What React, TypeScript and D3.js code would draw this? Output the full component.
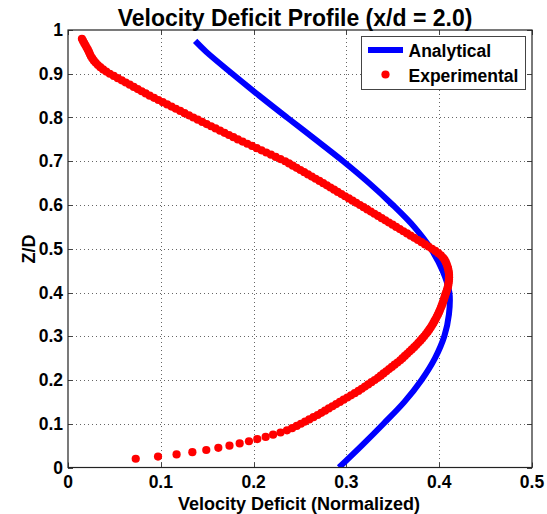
import React from "react";
import * as d3 from "d3";

const TITLE = "Velocity Deficit Profile (x/d = 2.0)";
const X_LABEL = "Velocity Deficit (Normalized)";
const Y_LABEL = "Z/D";
const SERIES_NAMES = ["Analytical", "Experimental"];

const X_TICKS = [0, 0.1, 0.2, 0.3, 0.4, 0.5];
const X_TICK_LABELS = ["0", "0.1", "0.2", "0.3", "0.4", "0.5"];
const Y_TICKS = [0, 0.1, 0.2, 0.3, 0.4, 0.5, 0.6, 0.7, 0.8, 0.9, 1];
const Y_TICK_LABELS = ["0", "0.1", "0.2", "0.3", "0.4", "0.5", "0.6", "0.7", "0.8", "0.9", "1"];

// Analytical profile: [deficit, z/D]
const ANALYTICAL: [number, number][] = [
  [0.292, 0.0], [0.3165, 0.05], [0.34, 0.1], [0.3625, 0.15], [0.381, 0.2],
  [0.3955, 0.25], [0.4055, 0.3], [0.4105, 0.35], [0.411, 0.4], [0.4036, 0.45],
  [0.391, 0.5], [0.373, 0.55], [0.35, 0.6], [0.3245, 0.65], [0.2965, 0.7],
  [0.2665, 0.75], [0.236, 0.8], [0.206, 0.85], [0.177, 0.9], [0.149, 0.95],
  [0.137, 0.975],
];

// Experimental samples: [deficit, z/D]
const EXPERIMENTAL: [number, number][] = [
  [0.073, 0.02], [0.097, 0.025], [0.117, 0.03], [0.134, 0.035], [0.149, 0.04],
  [0.162, 0.045], [0.174, 0.05], [0.185, 0.055], [0.195, 0.06], [0.204, 0.065],
  [0.213, 0.07], [0.221, 0.075], [0.229, 0.08], [0.236, 0.085], [0.2415, 0.09],
  [0.2465, 0.095], [0.251, 0.1], [0.2555, 0.105], [0.26, 0.11], [0.2645, 0.115],
  [0.269, 0.12], [0.273, 0.125], [0.277, 0.13], [0.281, 0.135], [0.285, 0.14],
  [0.289, 0.145], [0.293, 0.15], [0.297, 0.155], [0.301, 0.16], [0.305, 0.165],
  [0.309, 0.17], [0.313, 0.175], [0.3165, 0.18], [0.32, 0.185], [0.3235, 0.19],
  [0.327, 0.195], [0.3305, 0.2], [0.334, 0.205], [0.337, 0.21], [0.34, 0.215],
  [0.343, 0.22], [0.346, 0.225], [0.349, 0.23], [0.352, 0.235], [0.355, 0.24],
  [0.358, 0.245], [0.3605, 0.25], [0.363, 0.255], [0.3655, 0.26], [0.368, 0.265],
  [0.3705, 0.27], [0.373, 0.275], [0.3753, 0.28], [0.3775, 0.285], [0.3797, 0.29],
  [0.3818, 0.295], [0.3838, 0.3], [0.3857, 0.305], [0.3875, 0.31], [0.3892, 0.315],
  [0.3908, 0.32], [0.3923, 0.325], [0.3937, 0.33], [0.395, 0.335], [0.3963, 0.34],
  [0.3975, 0.345], [0.3987, 0.35], [0.3998, 0.355], [0.4008, 0.36], [0.4018, 0.365],
  [0.4027, 0.37], [0.4036, 0.375], [0.4044, 0.38], [0.4052, 0.385], [0.4059, 0.39],
  [0.4066, 0.395], [0.4075, 0.4], [0.4083, 0.405], [0.409, 0.41], [0.4096, 0.415],
  [0.41, 0.42], [0.4103, 0.425], [0.4105, 0.43], [0.4106, 0.435], [0.4106, 0.44],
  [0.4104, 0.445], [0.41, 0.45], [0.4095, 0.455], [0.4088, 0.46], [0.408, 0.465],
  [0.407, 0.47], [0.4057, 0.475], [0.404, 0.48], [0.4018, 0.485], [0.399, 0.49],
  [0.3958, 0.495], [0.3922, 0.5], [0.3885, 0.505], [0.3847, 0.51], [0.3809, 0.515],
  [0.377, 0.52], [0.3731, 0.525], [0.3692, 0.53], [0.3653, 0.535], [0.3614, 0.54],
  [0.3575, 0.545], [0.3536, 0.55], [0.3497, 0.555], [0.3458, 0.56], [0.3419, 0.565],
  [0.338, 0.57], [0.3341, 0.575], [0.3302, 0.58], [0.3263, 0.585], [0.3224, 0.59],
  [0.3185, 0.595], [0.3146, 0.6], [0.3106, 0.605], [0.3066, 0.61], [0.3026, 0.615],
  [0.2986, 0.62], [0.2946, 0.625], [0.2906, 0.63], [0.2867, 0.635], [0.2828, 0.64],
  [0.2789, 0.645], [0.275, 0.65], [0.2709, 0.655], [0.2668, 0.66], [0.2627, 0.665],
  [0.2586, 0.67], [0.2545, 0.675], [0.2504, 0.68], [0.2463, 0.685], [0.2422, 0.69],
  [0.2381, 0.695], [0.234, 0.7], [0.2289, 0.705], [0.2238, 0.71], [0.2187, 0.715],
  [0.2136, 0.72], [0.2085, 0.725], [0.2034, 0.73], [0.1983, 0.735], [0.1932, 0.74],
  [0.1881, 0.745], [0.183, 0.75], [0.1782, 0.755], [0.1734, 0.76], [0.1686, 0.765],
  [0.1638, 0.77], [0.159, 0.775], [0.1542, 0.78], [0.1494, 0.785], [0.1446, 0.79],
  [0.1398, 0.795], [0.135, 0.8], [0.1303, 0.805], [0.1256, 0.81], [0.1209, 0.815],
  [0.1162, 0.82], [0.1115, 0.825], [0.1068, 0.83], [0.1021, 0.835], [0.0974, 0.84],
  [0.0927, 0.845], [0.088, 0.85], [0.0837, 0.855], [0.0794, 0.86], [0.0751, 0.865],
  [0.0708, 0.87], [0.0665, 0.875], [0.0622, 0.88], [0.0579, 0.885], [0.0536, 0.89],
  [0.0493, 0.895], [0.045, 0.9], [0.0412, 0.905], [0.0378, 0.91], [0.0348, 0.915],
  [0.0322, 0.92], [0.0299, 0.925], [0.0279, 0.93], [0.0262, 0.935], [0.0247, 0.94],
  [0.0236, 0.945], [0.0226, 0.95], [0.0214, 0.955], [0.0201, 0.96], [0.0188, 0.965],
  [0.0175, 0.97], [0.0162, 0.975], [0.015, 0.98],
];

const FONT = "'Liberation Sans', Arial, Helvetica, sans-serif";

export default function App() {
  const W = 547;
  const H = 514;
  const left = 68, right = 532, top = 30, bottom = 467.5;
  const x = d3.scaleLinear().domain([0, 0.5]).range([left, right]);
  const y = d3.scaleLinear().domain([0, 1]).range([bottom, top]);

  const line = d3
    .line<[number, number]>()
    .x((d) => x(d[0]))
    .y((d) => y(d[1]))
    .curve(d3.curveCatmullRom.alpha(0.5));

  const tickLen = 5;
  const tickColor = "#444";
  const gridColor = "#666";
  const markerR = 4.1;

  return (
    <svg
      width={W}
      height={H}
      style={{ position: "absolute", left: 0, top: 0, background: "#fff" }}
      fontFamily={FONT}
      fontWeight="bold"
    >
      <rect x={0} y={0} width={W} height={H} fill="#fff" />
      <defs>
        <clipPath id="plotClip">
          <rect x={left} y={top} width={right - left} height={bottom - top} />
        </clipPath>
      </defs>

      {/* grid */}
      <g stroke={gridColor} strokeWidth={1} strokeDasharray="1,3">
        {X_TICKS.filter((t) => t > 0 && t < 0.5).map((t) => (
          <line key={"gx" + t} x1={Math.round(x(t)) + 0.5} x2={Math.round(x(t)) + 0.5} y1={top} y2={bottom} />
        ))}
        {Y_TICKS.filter((t) => t > 0 && t < 1).map((t) => (
          <line key={"gy" + t} x1={left} x2={right} y1={Math.round(y(t)) + 0.5} y2={Math.round(y(t)) + 0.5} />
        ))}
      </g>

      {/* ticks */}
      <g stroke={tickColor} strokeWidth={1}>
        {X_TICKS.map((t) => (
          <g key={"tx" + t}>
            <line x1={Math.round(x(t)) + 0.5} x2={Math.round(x(t)) + 0.5} y1={bottom} y2={bottom - tickLen} />
            <line x1={Math.round(x(t)) + 0.5} x2={Math.round(x(t)) + 0.5} y1={top} y2={top + tickLen} />
          </g>
        ))}
        {Y_TICKS.map((t) => (
          <g key={"ty" + t}>
            <line x1={left} x2={left + tickLen} y1={Math.round(y(t)) + 0.5} y2={Math.round(y(t)) + 0.5} />
            <line x1={right} x2={right - tickLen} y1={Math.round(y(t)) + 0.5} y2={Math.round(y(t)) + 0.5} />
          </g>
        ))}
      </g>

      {/* data */}
      <g clipPath="url(#plotClip)">
        <path d={line(ANALYTICAL) || ""} fill="none" stroke="#0000ff" strokeWidth={6} />
        {EXPERIMENTAL.map((d, i) => (
          <circle key={i} cx={x(d[0])} cy={y(d[1])} r={markerR} fill="#ff0000" />
        ))}
      </g>

      {/* axes box */}
      <rect x={left} y={top} width={right - left} height={bottom - top} fill="none" stroke="#222" strokeWidth={1.2} />

      {/* tick labels */}
      <g fontSize={17.5} fill="#000">
        {X_TICKS.map((t, i) => (
          <text key={"lx" + t} x={x(t)} y={488} textAnchor="middle">
            {X_TICK_LABELS[i]}
          </text>
        ))}
        {Y_TICKS.map((t, i) => (
          <text key={"ly" + t} x={63} y={y(t) + 6} textAnchor="end">
            {Y_TICK_LABELS[i]}
          </text>
        ))}
      </g>

      {/* labels */}
      <text x={299} y={510} textAnchor="middle" fontSize={18}>
        {X_LABEL}
      </text>
      <text transform={`translate(35,249) rotate(-90)`} textAnchor="middle" fontSize={18}>
        {Y_LABEL}
      </text>
      <text x={295} y={26} textAnchor="middle" fontSize={23}>
        {TITLE}
      </text>

      {/* legend */}
      <g>
        <rect x={361.5} y={36.5} width={164} height={53} fill="#fff" stroke="#444" strokeWidth={1} />
        <line x1={368} x2={403} y1={50} y2={50} stroke="#0000ff" strokeWidth={6} />
        <text x={408.5} y={57} fontSize={17.5}>
          {SERIES_NAMES[0]}
        </text>
        <circle cx={385.5} cy={74.5} r={markerR} fill="#ff0000" />
        <text x={408.5} y={81.5} fontSize={17.5}>
          {SERIES_NAMES[1]}
        </text>
      </g>
    </svg>
  );
}
